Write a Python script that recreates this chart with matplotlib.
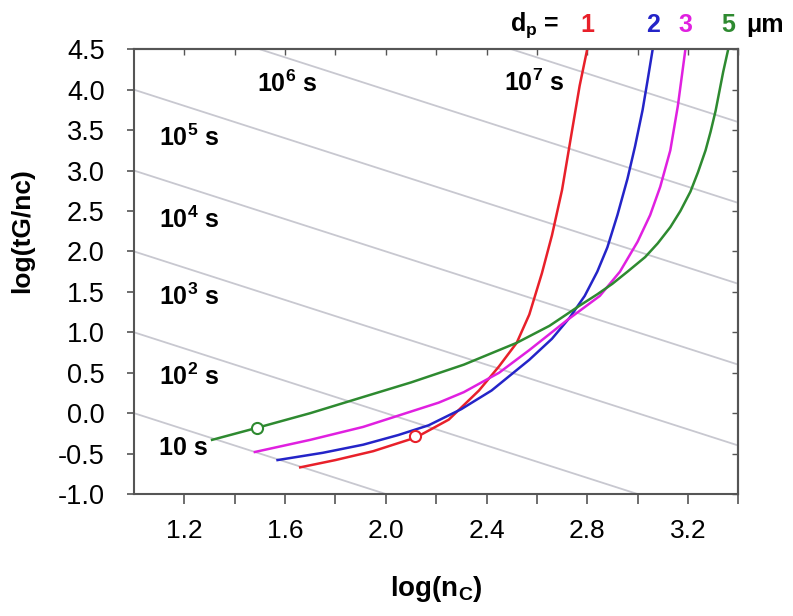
import numpy as np
import matplotlib
matplotlib.use("Agg")
import matplotlib.pyplot as plt

plt.rcParams['font.family'] = ['Liberation Sans', 'DejaVu Sans']
plt.rcParams['mathtext.fontset'] = 'custom'
plt.rcParams['mathtext.rm'] = 'Liberation Sans:bold'
plt.rcParams['mathtext.bf'] = 'Liberation Sans:bold'
plt.rcParams['mathtext.default'] = 'bf'

# curves, one per particle size dp (um)
red_x = [1.66, 1.80, 1.95, 2.12, 2.25, 2.37, 2.45, 2.52, 2.57, 2.62, 2.66, 2.70, 2.74, 2.77, 2.80]
red_y = [-0.67, -0.58, -0.47, -0.30, -0.08, 0.28, 0.58, 0.87, 1.22, 1.73, 2.20, 2.76, 3.50, 4.05, 4.5]

blue_x = [1.57, 1.75, 1.91, 2.05, 2.17, 2.30, 2.42, 2.57, 2.66, 2.73, 2.79, 2.84, 2.88, 2.92,
          2.96, 2.99, 3.02, 3.04, 3.06]
blue_y = [-0.58, -0.49, -0.39, -0.27, -0.15, 0.05, 0.28, 0.66, 0.92, 1.18, 1.45, 1.75, 2.05, 2.45,
          2.90, 3.30, 3.75, 4.12, 4.5]

mag_x = [1.48, 1.70, 1.91, 2.10, 2.21, 2.31, 2.45, 2.57, 2.72, 2.85, 2.93, 3.00, 3.05, 3.09, 3.13,
         3.16, 3.19]
mag_y = [-0.48, -0.33, -0.17, 0.02, 0.13, 0.26, 0.50, 0.78, 1.15, 1.45, 1.75, 2.12, 2.45, 2.80, 3.25,
         3.80, 4.5]

green_x = [1.31, 1.49, 1.70, 1.91, 2.10, 2.31, 2.52, 2.65, 2.77, 2.84, 2.90, 2.96, 3.03, 3.08,
           3.13, 3.17, 3.21, 3.24, 3.27, 3.29, 3.31, 3.325, 3.34, 3.36]
green_y = [-0.33, -0.18, 0.00, 0.20, 0.38, 0.60, 0.87, 1.08, 1.33, 1.47, 1.60, 1.75, 1.93, 2.10,
           2.30, 2.50, 2.74, 2.98, 3.25, 3.48, 3.74, 3.98, 4.22, 4.5]

sizes = ['1', '2', '3', '5']
colors = ['#e8202a', '#2424c8', '#e020e0', '#2e8a30']

# open circle markers
mark_x = [1.49, 2.115]
mark_y = [-0.18, -0.28]
mark_c = ['#2e8a30', '#e8202a']

# iso-time lines: log(tG/nc) = log(t) - log(nc)
log_t = [1, 2, 3, 4, 5, 6, 7]
t_labels = ['10 s', r'10$^2$ s', r'10$^3$ s', r'10$^4$ s', r'10$^5$ s', r'10$^6$ s', r'10$^7$ s']
t_lab_x = [1.10, 1.10, 1.10, 1.10, 1.10, 1.49, 2.47]
t_lab_y = [-0.43, 0.45, 1.44, 2.39, 3.41, 4.07, 4.09]

fig = plt.figure(figsize=(7.93, 6.16), dpi=100)
ax = fig.add_axes([0.169, 0.198, 0.762, 0.722])

xx = np.array([1.0, 3.4])
for k in log_t:
    ax.plot(xx, k - xx, color='#c8c8d0', lw=1.3, zorder=1)

for i, lab in enumerate(t_labels):
    ax.text(t_lab_x[i], t_lab_y[i], lab, fontsize=18, fontweight='bold',
            ha='left', va='center', zorder=3)

curves = [(red_x, red_y), (blue_x, blue_y), (mag_x, mag_y), (green_x, green_y)]
for (cx, cy), c in zip(curves, colors):
    ax.plot(cx, cy, color=c, lw=1.8, zorder=2, solid_joinstyle='round')

for x, y, c in zip(mark_x, mark_y, mark_c):
    ax.plot(x, y, 'o', ms=8, mfc='white', mec=c, mew=1.5, zorder=4)

xt = np.arange(1.2, 3.41, 0.2)
yt = np.arange(-1.0, 4.51, 0.5)
ax.set_xlim(1.0, 3.4)
ax.set_ylim(-1.0, 4.5)
ax.set_xticks(xt)
ax.set_xticklabels(['1.2', '', '1.6', '', '2.0', '', '2.4', '', '2.8', '', '3.2', ''])
ax.set_yticks(yt)
ax.set_yticklabels(['%.1f' % v for v in yt])
ax.tick_params(axis='x', direction='out', length=7, width=1.2, color='#555555',
               labelsize=19, pad=11)
ax.tick_params(axis='y', direction='out', length=5, width=1.2, color='#555555',
               labelsize=19.5, pad=16)

# inward ticks on the top and right frame
top = ax.secondary_xaxis('top')
top.set_xticks(xt)
top.set_xticklabels([])
top.tick_params(direction='in', length=4, width=1.0, color='#555555')
right = ax.secondary_yaxis('right')
right.set_yticks(yt)
right.set_yticklabels([])
right.tick_params(direction='in', length=4, width=1.0, color='#555555')

for a in (ax, top, right):
    for s in a.spines.values():
        s.set_color('#555555')
        s.set_linewidth(1.5)

ax.set_xlabel(r'log(n$_\mathbf{C}$)', fontsize=20, fontweight='bold', labelpad=22)
ax.set_ylabel('log(tG/nc)', fontsize=19, fontweight='bold')
ax.yaxis.set_label_coords(-0.165, 0.593)

# dp legend above the curve tops
top_x = [red_x[-1], blue_x[-1], mag_x[-1], green_x[-1]]
ax.text(2.69, 4.80, r'd$_\mathbf{p}$ =', fontsize=18, fontweight='bold',
        ha='right', va='center', clip_on=False)
for x, s, c in zip(top_x, sizes, colors):
    ax.text(x, 4.80, s, fontsize=18, fontweight='bold', color=c,
            ha='center', va='center', clip_on=False)
ax.text(3.43, 4.80, 'μm', fontsize=18, fontweight='bold',
        ha='left', va='center', clip_on=False)

fig.savefig('out.png', dpi=100)
